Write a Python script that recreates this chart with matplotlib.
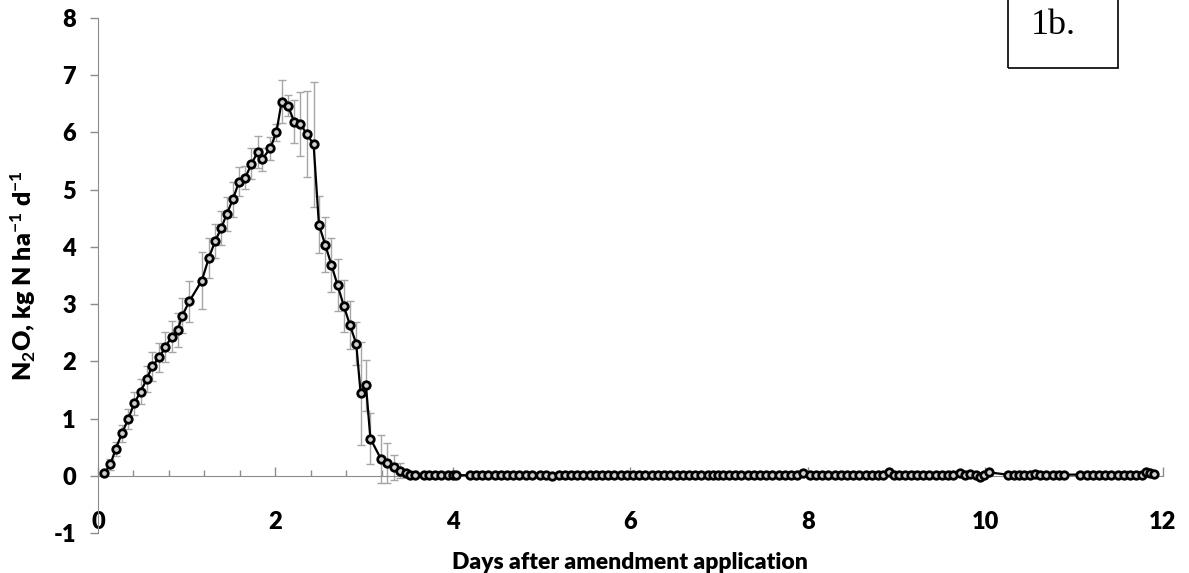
import numpy as np
import matplotlib
matplotlib.use("Agg")
import matplotlib.pyplot as plt
from matplotlib.patches import Rectangle

plt.rcParams['font.family'] = ['Lato', 'DejaVu Sans']
plt.rcParams['font.weight'] = 'bold'
plt.rcParams['mathtext.fontset'] = 'custom'
plt.rcParams['mathtext.rm'] = 'Lato:bold'
plt.rcParams['mathtext.bf'] = 'Lato:bold'
plt.rcParams['mathtext.default'] = 'bf'
plt.rcParams['axes.unicode_minus'] = False

# emission peak: days after application, mean flux and standard deviation
peak_days = [0.07, 0.14, 0.20, 0.27, 0.34, 0.41, 0.48, 0.55, 0.61, 0.69,
             0.76, 0.83, 0.90, 0.95, 1.03, 1.17, 1.25, 1.32, 1.39, 1.45,
             1.52, 1.59, 1.66, 1.73, 1.80, 1.85, 1.94, 2.01, 2.07, 2.14,
             2.21, 2.28, 2.35, 2.43, 2.49, 2.56, 2.63, 2.70, 2.77, 2.84,
             2.91, 2.96, 3.02, 3.07, 3.19, 3.26, 3.34, 3.40, 3.47, 3.52,
             3.57]
peak_n2o = [0.04, 0.20, 0.47, 0.74, 0.99, 1.27, 1.47, 1.69, 1.91, 2.07,
            2.25, 2.43, 2.55, 2.80, 3.05, 3.41, 3.81, 4.10, 4.33, 4.57,
            4.83, 5.14, 5.21, 5.45, 5.66, 5.53, 5.72, 6.00, 6.54, 6.47,
            6.19, 6.15, 5.98, 5.79, 4.39, 4.04, 3.69, 3.33, 2.97, 2.63,
            2.31, 1.44, 1.58, 0.65, 0.29, 0.22, 0.15, 0.09, 0.04, 0.02,
            0.01]
peak_sd = [0.03, 0.10, 0.12, 0.15, 0.18, 0.20, 0.22, 0.22, 0.25, 0.25,
           0.27, 0.27, 0.30, 0.30, 0.36, 0.50, 0.35, 0.30, 0.30, 0.30,
           0.30, 0.25, 0.20, 0.27, 0.28, 0.20, 0.20, 0.15, 0.37, 0.18,
           0.38, 0.56, 0.75, 1.10, 0.50, 0.48, 0.47, 0.45, 0.45, 0.42,
           0.38, 0.90, 0.45, 0.45, 0.42, 0.35, 0.22, 0.13, 0.06, 0.03,
           0.0]

# background flux after the peak
tail_days = [3.67, 3.73, 3.80, 3.87, 3.94, 4.00, 4.04,
             4.19, 4.26, 4.33, 4.40, 4.47, 4.54, 4.61, 4.68, 4.75, 4.82, 4.89,
             4.98, 5.05, 5.12, 5.19, 5.26, 5.33, 5.40, 5.47, 5.54, 5.61, 5.68,
             5.75, 5.82, 5.89, 5.96, 6.03, 6.10,
             6.17, 6.24, 6.31, 6.38, 6.45, 6.52, 6.59, 6.66, 6.73, 6.80, 6.87,
             6.93, 6.99,
             7.04, 7.11, 7.18, 7.25, 7.32, 7.39, 7.46, 7.53, 7.60, 7.67, 7.74,
             7.81, 7.88, 7.94,
             8.02, 8.09, 8.16, 8.23, 8.30, 8.37, 8.44, 8.51, 8.58, 8.65, 8.72,
             8.79, 8.85, 8.91,
             8.97, 9.03, 9.09,
             9.16, 9.23, 9.30, 9.37, 9.44, 9.51, 9.58, 9.64, 9.71, 9.77, 9.83,
             9.89, 9.94, 9.99, 10.04,
             10.25, 10.32, 10.38, 10.44, 10.50, 10.56, 10.62, 10.68, 10.76,
             10.83, 10.89,
             11.07, 11.14, 11.21, 11.28, 11.35, 11.42, 11.49, 11.56, 11.63,
             11.70, 11.76, 11.81, 11.86, 11.90]
tail_n2o = [0.01, 0.01, 0.01, 0.01, 0.01, 0.01, 0.01,
            0.01, 0.01, 0.01, 0.01, 0.01, 0.01, 0.01, 0.01, 0.01, 0.01, 0.01,
            0.01, 0.01, 0.00, 0.01, 0.01, 0.01, 0.01, 0.01, 0.01, 0.01, 0.01,
            0.01, 0.01, 0.01, 0.01, 0.01, 0.01,
            0.01, 0.01, 0.01, 0.01, 0.01, 0.01, 0.01, 0.01, 0.01, 0.01, 0.02,
            0.01, 0.01,
            0.01, 0.01, 0.01, 0.01, 0.01, 0.01, 0.01, 0.01, 0.01, 0.01, 0.01,
            0.01, 0.02, 0.05,
            0.01, 0.01, 0.01, 0.01, 0.01, 0.01, 0.01, 0.01, 0.01, 0.01, 0.01,
            0.01, 0.02, 0.06,
            0.01, 0.01, 0.01,
            0.01, 0.01, 0.01, 0.01, 0.01, 0.01, 0.01, 0.02, 0.04, 0.02, 0.03,
            0.01, -0.03, 0.01, 0.06,
            0.02, 0.02, 0.02, 0.02, 0.02, 0.03, 0.02, 0.02, 0.02,
            0.02, 0.02,
            0.02, 0.02, 0.02, 0.02, 0.02, 0.02, 0.02, 0.02, 0.02,
            0.02, 0.02, 0.06, 0.04, 0.03]

days = np.array(peak_days + tail_days)
n2o = np.array(peak_n2o + tail_n2o)
sd = np.array(peak_sd + [0.0] * len(tail_days))

fig = plt.figure(figsize=(11.89, 5.73), dpi=100)
ax = fig.add_axes([0.0824, 0.0698, 0.8956, 0.8988])

has_sd = sd > 0
ax.errorbar(days[has_sd], n2o[has_sd], yerr=sd[has_sd], fmt='none',
            ecolor='#a6a6a6', elinewidth=1.0, capsize=2.6, capthick=1.0,
            zorder=2)
ax.plot(days, n2o, color='black', lw=1.6, marker='o', ms=5.4,
        mfc='#d0d0d0', mec='black', mew=2.0, zorder=3)

ax.set_xlim(0, 12)
ax.set_ylim(-1, 8)
ax.set_xticks(np.arange(0, 13, 2))
ax.set_xticks(np.arange(0, 12.01, 0.4), minor=True)
ax.set_yticks(np.arange(-1, 9, 1))

axis_grey = '#8c8c8c'
for side in ['top', 'right']:
    ax.spines[side].set_visible(False)
ax.spines['left'].set_color(axis_grey)
ax.spines['bottom'].set_color(axis_grey)
ax.spines['bottom'].set_position(('data', 0))

ax.tick_params(axis='x', which='major', direction='in', length=6.5,
               width=1, color=axis_grey, pad=25, labelsize=17)
ax.tick_params(axis='x', which='minor', direction='in', length=4,
               width=1, color=axis_grey)
ax.tick_params(axis='y', which='major', direction='out', length=6,
               width=1, color=axis_grey, pad=10, labelsize=17)
for lbl in ax.get_xticklabels() + ax.get_yticklabels():
    lbl.set_fontweight('heavy')

ax.set_xlabel('Days after amendment application', fontsize=16.5,
              fontweight='heavy', labelpad=14)
ax.set_ylabel(r'N$_\mathbf{2}$O, kg N ha$^\mathbf{-1}$ d$^\mathbf{-1}$',
              fontsize=18, fontweight='heavy', labelpad=11)

# panel tag in the upper right corner
fig.add_artist(Rectangle((1008 / 1189, 1 - 68 / 573), 110 / 1189, 70 / 573,
                         transform=fig.transFigure, fill=False,
                         edgecolor='black', lw=1.2))
fig.text(1053 / 1189, 1 - 26 / 573, '1b.', family='Liberation Serif',
         fontweight='normal', fontsize=26, ha='center', va='center')

fig.savefig('out.png', dpi=100)
